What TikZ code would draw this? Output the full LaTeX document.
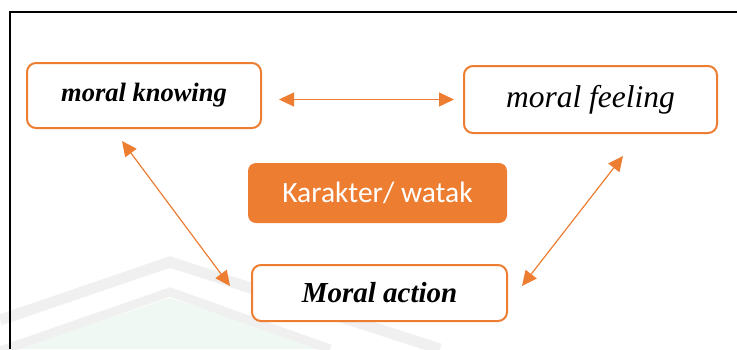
\documentclass[tikz,border=0pt]{standalone}
\usepackage{fontspec}
\setmainfont{Liberation Serif}
\newfontfamily\calibri{Carlito}
\usepackage{xcolor}
\usepackage{tikz}
\usetikzlibrary{shapes,arrows.meta,positioning,calc}
\definecolor{office}{HTML}{ED7D31}
\definecolor{wmgray}{HTML}{F0F0F0}
\definecolor{wmgreen}{HTML}{EFF8F2}

\begin{document}
\begin{tikzpicture}[
    x=1pt, y=-1pt,
    box/.style={rectangle, draw=office, fill=white, line width=2pt, rounded corners=9pt, align=center, inner sep=0pt},
    core/.style={rectangle, fill=office, rounded corners=8pt, align=center, inner sep=0pt, text=white, font=\calibri\fontsize{29.5}{34}\selectfont},
    arr/.style={{Triangle[length=15pt,width=14pt]}-{Triangle[length=15pt,width=14pt]}, line width=1.2pt, draw=office}
]
    \useasboundingbox (0,0) rectangle (737,349);
    % watermark
    \begin{scope}
    \clip (0,0) rectangle (737,349);
    \fill [wmgreen] (16,349) -- (170,298) -- (330,349) -- cycle;
    \draw [wmgray, line width=11pt] (0,320) -- (170,262) -- (440,349);
    \draw [wmgray, line width=9pt] (0,351) -- (170,292) -- (330,349);
    \end{scope}
    % frame
    \draw [line width=2pt] (10,349) -- (10,12) -- (737,12);

    \node [box, minimum width=234pt, minimum height=65pt, font=\bfseries\itshape\fontsize{26.5}{30}\selectfont] (n1) at (144,95.5) {moral knowing};
    \node [box, minimum width=253pt, minimum height=67pt, font=\itshape\fontsize{31.5}{36}\selectfont] (n2) at (590.5,99.5) {moral feeling};
    \node [core, minimum width=259pt, minimum height=60pt] (n3) at (377.5,193) {Karakter/ watak};
    \node [box, minimum width=255pt, minimum height=56pt, font=\bfseries\itshape\fontsize{29}{33}\selectfont] (n4) at (379.5,293) {Moral action};

    \draw [arr, shorten <=17pt, shorten >=9pt] (n1.east |- n2.west) -- (n2.west);
    \draw [arr] ($(n1.south)+(-22,12)$) -- ($(n4.west)+(-21,-7)$);
    \draw [arr] ($(n2.south)+(32.5,22)$) -- ($(n4.east)+(14,-7)$);
\end{tikzpicture}
\end{document}
